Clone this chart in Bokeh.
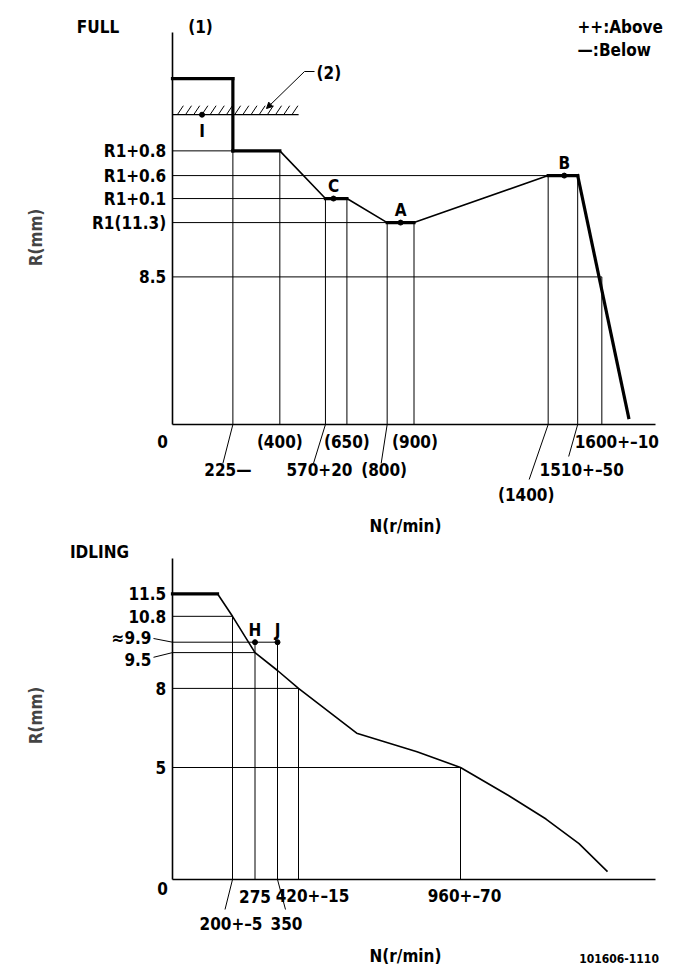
import numpy as np
from bokeh.plotting import figure
from bokeh.models import (ColumnDataSource, LabelSet, Label, Arrow, NormalHead,
                          Range1d, FixedTicker)
from bokeh.layouts import column
from bokeh.embed import file_html
from bokeh.resources import INLINE
from bokeh.core.properties import value

FONT = "DejaVu Sans Condensed"
FS = "17px"

# ---------------- FULL (upper chart) data ----------------
full_curve_rpm = [0, 225, 225, 400, 570, 650, 800, 900, 1400, 1510, 1700]
full_curve_R = [12.7, 12.7, 12.1, 12.1, 11.4, 11.4, 11.3, 11.3, 11.9, 11.9, 0.4]
full_tick_R = [12.1, 11.9, 11.4, 11.3, 8.5]
full_tick_labels = ["R1+0.8", "R1+0.6", "R1+0.1", "R1(11.3)", "8.5"]
full_hline_end_rpm = [400, 1510, 650, 900, 1600]
full_vline_rpm = [225, 400, 570, 650, 800, 900, 1400, 1510, 1600]
full_vline_top_R = [12.1, 12.1, 11.4, 11.4, 11.3, 11.3, 11.9, 11.9, 8.5]
full_rpm_labels = ["225—", "(400)", "570+20", "(650)", "(800)", "(900)",
                   "(1400)", "1510+–50", "1600+–10"]
full_point_rpm = [600, 850, 1460]
full_point_R = [11.4, 11.3, 11.9]
full_point_names = ["C", "A", "B"]
full_limit_R = 12.4          # hatched limit line (2)
full_limit_end_rpm = 470
full_I_rpm = 110

# ---------------- IDLING (lower chart) data ----------------
idl_curve_rpm = [0, 150, 200, 275, 350, 420, 614, 815, 960, 1120, 1245, 1355, 1450]
idl_curve_R = [11.5, 11.5, 10.8, 9.5, 8.75, 8.0, 6.3, 5.6, 5.0, 3.75, 2.7, 1.6, 0.35]
idl_tick_R = [11.5, 10.8, 9.9, 9.5, 8, 5]
idl_tick_labels = ["11.5", "10.8", "≈9.9", "9.5", "8", "5"]
idl_hline_R = [10.8, 9.9, 9.5, 8, 5]
idl_hline_end_rpm = [200, 350, 275, 420, 960]
idl_vline_rpm = [200, 275, 350, 420, 960]
idl_vline_top_R = [10.8, 9.9, 9.9, 8, 5]
idl_rpm_labels = ["200+–5", "275", "350", "420+–15", "960+–70"]
idl_point_rpm = [275, 350]
idl_point_R = [9.9, 9.9]
idl_point_names = ["H", "J"]

# schematic (not-to-scale) R axes: R value -> drawing position
FULL_R_BREAK = [0, 8.5, 11.3, 11.4, 11.9, 12.1, 13.0]
FULL_D_BREAK = [0, 8.48, 11.60, 12.98, 14.30, 15.72, 21.95]
IDL_R_BREAK = [0, 5, 8, 9.5, 9.9, 10.8, 11.5, 14.0]
IDL_D_BREAK = [0, 4.63, 7.90, 9.38, 9.81, 10.88, 11.81, 14.31]


def disp_full(r):
    return np.interp(r, FULL_R_BREAK, FULL_D_BREAK)


def disp_idl(r):
    return np.interp(r, IDL_R_BREAK, IDL_D_BREAK)


# ---------------- layout constants (page pixels) ----------------
W = 673
ORIGIN_X = 172
FW = 483
TOP_H, TOP_ORIGIN_Y, TOP_FH = 540, 424, 392
TOP_X_END, TOP_Y_END = 1800, 22.52
BOT_H, BOT_ORIGIN_Y, BOT_FH = 431, 339, 321
BOT_X_END, BOT_Y_END = 1610, 13.27


def make_fig(h, oy, x_end, y_end, fh):
    kx = FW / x_end
    ky = fh / y_end
    p = figure(width=W, height=h, output_backend="svg", toolbar_location=None,
               x_range=Range1d(-ORIGIN_X / kx, (W - ORIGIN_X) / kx),
               y_range=Range1d(-(h - oy) / ky, oy / ky),
               min_border=0)
    p.outline_line_color = None
    p.grid.visible = False
    for ax, b in ((p.xaxis[0], (0, x_end)), (p.yaxis[0], (0, y_end))):
        ax.fixed_location = 0
        ax.bounds = b
        ax.ticker = FixedTicker(ticks=[])
        ax.major_tick_out = 0
        ax.major_tick_in = 0
        ax.minor_tick_out = 0
        ax.minor_tick_in = 0
        ax.major_label_standoff = 0
        ax.major_tick_line_color = None
        ax.minor_tick_line_color = None
        ax.axis_line_width = 1.6
        ax.axis_line_color = "black"
        ax.major_label_text_font_size = "0px"
    return p, kx, ky


def add_labels(p, xs, ys, texts, align="center", size=FS, baseline="middle"):
    src = ColumnDataSource(dict(x=list(xs), y=list(ys), t=list(texts)))
    p.add_layout(LabelSet(x="x", y="y", text="t", source=src, text_align=align,
                          text_baseline=baseline, text_font=value(FONT),
                          text_font_size=value(size), text_font_style="bold",
                          text_color="black"))


def add_leaders(p, x0, y0, x1, y1, width=1.0):
    p.segment(list(x0), list(y0), list(x1), list(y1), line_color="black", line_width=width)


def curve(p, xs, ys, thick_last=False):
    p.line(xs, ys, line_color="black", line_width=1.6)
    sx0, sy0, sx1, sy1 = [], [], [], []
    n = len(xs)
    for i in range(n - 1):
        flat = ys[i] == ys[i + 1] or xs[i] == xs[i + 1]
        if flat or (thick_last and i == n - 2):
            sx0.append(xs[i]); sy0.append(ys[i]); sx1.append(xs[i + 1]); sy1.append(ys[i + 1])
    p.segment(sx0, sy0, sx1, sy1, line_color="black", line_width=3.2, line_cap="square")


def rot_label(p, x, y, text):
    p.add_layout(Label(x=x, y=y, text=text, angle=np.pi / 2,
                       text_align="center", text_baseline="middle", text_font=FONT,
                       text_font_size=FS, text_font_style="bold"))


# =================== upper chart ===================
p1, kx1, ky1 = make_fig(TOP_H, TOP_ORIGIN_Y, TOP_X_END, TOP_Y_END, TOP_FH)


def tx1(px):
    return (px - ORIGIN_X) / kx1


def ty1(py):
    return (TOP_ORIGIN_Y - py) / ky1


hy = disp_full(full_tick_R)
p1.segment([0] * len(hy), hy, full_hline_end_rpm, hy, line_color="black", line_width=1)
p1.segment(full_vline_rpm, [0] * len(full_vline_rpm), full_vline_rpm,
           disp_full(full_vline_top_R), line_color="black", line_width=1)

curve(p1, full_curve_rpm, list(disp_full(full_curve_R)), thick_last=True)

# hatched limit (2)
ly = float(disp_full(full_limit_R))
p1.segment([0], [ly], [full_limit_end_rpm], [ly], line_color="black", line_width=1.2)
hx = np.linspace(18, 445, 15)
p1.segment(hx, [ly] * len(hx), hx + 6 / kx1, [ly + 9 / ky1] * len(hx),
           line_color="black", line_width=1)
p1.scatter([full_I_rpm], [ly], size=5, color="black")
add_labels(p1, [full_I_rpm], [ly - 16 / ky1], ["I"])

p1.add_layout(Arrow(end=NormalHead(size=6, fill_color="black", line_color="black"),
                    x_start=tx1(304), y_start=ty1(71), x_end=tx1(266), y_end=ty1(108),
                    line_color="black", line_width=1))
p1.segment([tx1(304)], [ty1(71)], [tx1(314)], [ty1(71)], line_color="black", line_width=1)
add_labels(p1, [tx1(316)], [ty1(72)], ["(2)"], align="left")

py = disp_full(full_point_R)
p1.scatter(full_point_rpm, py, size=5, color="black")
add_labels(p1, full_point_rpm, py + 13 / ky1, full_point_names)

add_labels(p1, [-6.3 / kx1] * len(hy), hy, full_tick_labels, align="right")
add_labels(p1, [-10 / kx1], [-17 / ky1], ["0"])

row = {1: 17, 2: 45, 3: 70}
lab_dx = [-5, 0, -6, 0, -3, 1, -22, 4, 15]
lab_row = [2, 1, 2, 1, 2, 1, 3, 2, 1]
add_labels(p1, [r + d / kx1 for r, d in zip(full_vline_rpm, lab_dx)],
           [-row[k] / ky1 for k in lab_row], full_rpm_labels)
lead_rpm = [225, 570, 800, 1400, 1510]
lead_dx = [-10, -12, -6, -19, -9]
lead_dy = [39, 39, 39, 55, 32]
add_leaders(p1, lead_rpm, [0] * 5, [r + d / kx1 for r, d in zip(lead_rpm, lead_dx)],
            [-d / ky1 for d in lead_dy])

add_labels(p1, [tx1(97.5)], [ty1(26)], ["FULL"])
add_labels(p1, [tx1(200)], [ty1(26)], ["(1)"])
add_labels(p1, [tx1(577)], [ty1(26)], ["++:Above"], align="left")
add_labels(p1, [tx1(577)], [ty1(49)], ["—:Below"], align="left")
add_labels(p1, [tx1(405)], [ty1(525)], ["N(r/min)"])
rot_label(p1, tx1(35), ty1(237), "R(mm)")

# =================== lower chart ===================
p2, kx2, ky2 = make_fig(BOT_H, BOT_ORIGIN_Y, BOT_X_END, BOT_Y_END, BOT_FH)
PAGE_Y0 = TOP_H


def tx2(px):
    return (px - ORIGIN_X) / kx2


def ty2(py):
    return (PAGE_Y0 + BOT_ORIGIN_Y - py) / ky2


ihy = disp_idl(idl_hline_R)
p2.segment([0] * len(ihy), ihy, idl_hline_end_rpm, ihy, line_color="black", line_width=1)
p2.segment(idl_vline_rpm, [0] * len(idl_vline_rpm), idl_vline_rpm,
           disp_idl(idl_vline_top_R), line_color="black", line_width=1)
curve(p2, idl_curve_rpm, list(disp_idl(idl_curve_R)))
ipy = disp_idl(idl_point_R)
p2.scatter(idl_point_rpm, ipy, size=5, color="black")
add_labels(p2, idl_point_rpm, ipy + 12 / ky2, idl_point_names)

ity = disp_idl(idl_tick_R)
ylab_dx = [-6.3, -6.3, -21, -21, -6.3, -6.3]
ylab_dy = [0, 0, 4, -7, 0, 0]
add_labels(p2, [d / kx2 for d in ylab_dx],
           [r + d / ky2 for r, d in zip(ity, ylab_dy)], idl_tick_labels, align="right")
y99, y95 = float(disp_idl(9.9)), float(disp_idl(9.5))
add_leaders(p2, [-19 / kx2, -19 / kx2], [y99 + 3.7 / ky2, y95 - 4.7 / ky2],
            [0, 0], [y99, y95])
add_labels(p2, [-10 / kx2], [-9 / ky2], ["0"])

row2 = {1: 16.5, 2: 44}
idl_lab_dx = [-1.5, 0, 9, 14, 4]
idl_lab_row = [2, 1, 2, 1, 1]
add_labels(p2, [r + d / kx2 for r, d in zip(idl_vline_rpm, idl_lab_dx)],
           [-row2[k] / ky2 for k in idl_lab_row], idl_rpm_labels)
add_leaders(p2, [200, 350], [0, 0], [200 - 7.5 / kx2, 350 + 8 / kx2],
            [-30 / ky2, -30 / ky2])

add_labels(p2, [tx2(99)], [ty2(551.7)], ["IDLING"])
add_labels(p2, [tx2(405)], [ty2(955)], ["N(r/min)"])
add_labels(p2, [tx2(618.6)], [ty2(958)], ["101606-1110"], size="12px")
rot_label(p2, tx2(35), ty2(715), "R(mm)")

layout = column(p1, p2)
open("out.html", "w").write(file_html(layout, INLINE))
